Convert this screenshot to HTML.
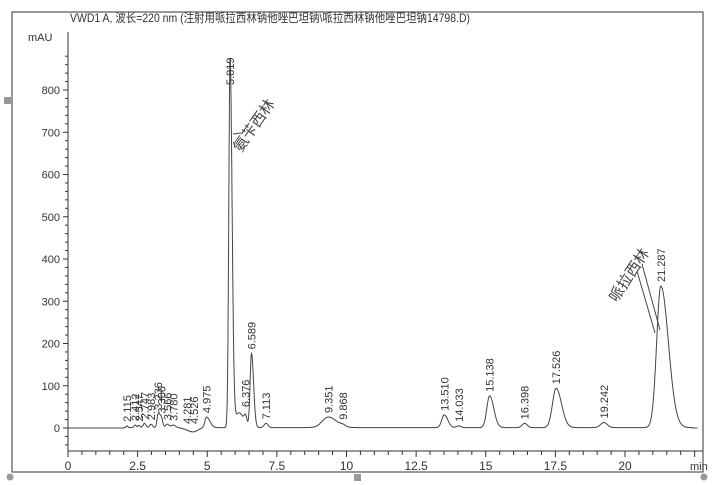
<!DOCTYPE html>
<html><head><meta charset="utf-8"><style>
html,body{margin:0;padding:0;background:#fff;}
svg{display:block;font-family:"Liberation Sans","Noto Sans CJK SC",sans-serif;}
</style></head><body>
<svg id="s" width="717" height="485" viewBox="0 0 717 485" xmlns="http://www.w3.org/2000/svg">
<rect x="12" y="12" width="691" height="460" fill="none" stroke="#555" stroke-width="1.2"/>
<rect x="4" y="97" width="7" height="7" fill="#999"/>
<rect x="354" y="474" width="7" height="7" fill="#999"/>
<circle cx="10" cy="477" r="3.5" fill="#999"/>
<circle cx="704" cy="477" r="3.5" fill="#999"/>
<text x="70" y="22" font-size="12" fill="#333" textLength="400" lengthAdjust="spacingAndGlyphs">VWD1 A, 波长=220 nm (注射用哌拉西林钠他唑巴坦钠\哌拉西林钠他唑巴坦钠14798.D)</text>
<text x="28" y="41" font-size="11" fill="#333">mAU</text>
<g id="ax" stroke="#333" stroke-width="1" fill="none"></g>
<g id="lbl" font-size="11" fill="#333"></g>
<path id="tr" fill="none" stroke="#444" stroke-width="1"/>
<text font-size="15" fill="#444" transform="translate(241,153) rotate(-55)">氨苄西林</text>
<line x1="233" y1="134" x2="241" y2="133" stroke="#444"/>
<text font-size="15" fill="#444" transform="translate(617,303) rotate(-57)">哌拉西林</text>
<line x1="637" y1="271" x2="655" y2="333" stroke="#444"/>
<line x1="642" y1="264" x2="660" y2="330" stroke="#444"/>
</svg>
<script>
var X=function(t){return 68+t*27.85},Y=function(v){return 428-v*0.4225};
var ns="http://www.w3.org/2000/svg",ax=document.getElementById('ax'),lb=document.getElementById('lbl');
function el(p,tag,a,txt){var e=document.createElementNS(ns,tag);for(var k in a)e.setAttribute(k,a[k]);if(txt)e.textContent=txt;p.appendChild(e);return e;}
el(ax,'line',{x1:68,y1:32,x2:68,y2:451});
el(ax,'line',{x1:68,y1:451,x2:703,y2:451});
for(var v=-40;v<=880;v+=20){var y=Y(v);if(y<32)continue;el(ax,'line',{x1:v%100==0?63:65,y1:y,x2:68,y2:y});
 if(v%100==0&&v>=0)el(lb,'text',{x:60,y:y+4,'text-anchor':'end'},String(v));}
for(var t=0;t<=22.5;t+=0.5){var x=X(t);if(x>703)break;el(ax,'line',{x1:x,y1:451,x2:x,y2:t%2.5==0?457:455});
 if(t%2.5==0&&t<22.5)el(lb,'text',{x:x,y:470,'text-anchor':'middle','font-size':12},String(t));}
el(lb,'text',{x:690,y:470,'font-size':11},'min');
var P=[[2.115,4,.03,1],[2.412,6,.04,1],[2.547,5,.04,1],[2.747,10,.05,1],[2.983,8,.05,1],[3.236,32,.04,2],[3.356,15,.05,1],[3.566,8,.06,1],[3.780,6,.08,1],[4.281,-4,.15,1],[4.526,-9,.15,1],[4.975,25,.06,2],
[5.819,870,.045,1.6],[6.15,35,.15,1],[6.376,20,.05,1],[6.589,175,.05,1.5],[7.113,10,.07,1],[9.351,25,.22,1.3],[9.868,4,.1,1],[13.510,30,.09,1.4],[14.033,4,.08,1],[15.138,75,.1,1.5],[16.398,10,.09,1],[17.526,93,.13,1.5],[19.242,12,.12,1],[21.287,335,.15,1.8]];
function f(t){var s=0;if(t>2&&t<22.4)s+=1;P.forEach(function(p){var sg=t>p[0]?p[2]*p[3]:p[2];s+=p[1]*Math.exp(-Math.pow(t-p[0],2)/(2*sg*sg));});return s;}
var d="";for(var t=0;t<=22.6;t+=0.005){d+=(d?"L":"M")+X(t).toFixed(1)+" "+Y(f(t)).toFixed(1);}
document.getElementById('tr').setAttribute('d',d);
var L=[2.115,2.412,2.547,2.747,2.983,3.236,3.366,3.566,3.780,4.281,4.526,4.975,5.819,6.376,6.589,7.113,9.351,9.868,13.510,14.033,15.138,16.398,17.526,19.242,21.287];
L.forEach(function(t){var x=X(t)+4,y=Y(Math.max(f(t),0))-4;if(t==6.376)y=Y(40)-4;if(t==5.819)y=85;
 el(lb,'text',{transform:'translate('+x.toFixed(1)+','+y.toFixed(1)+') rotate(-90)'},t.toFixed(3));});
</script>
</body></html>
